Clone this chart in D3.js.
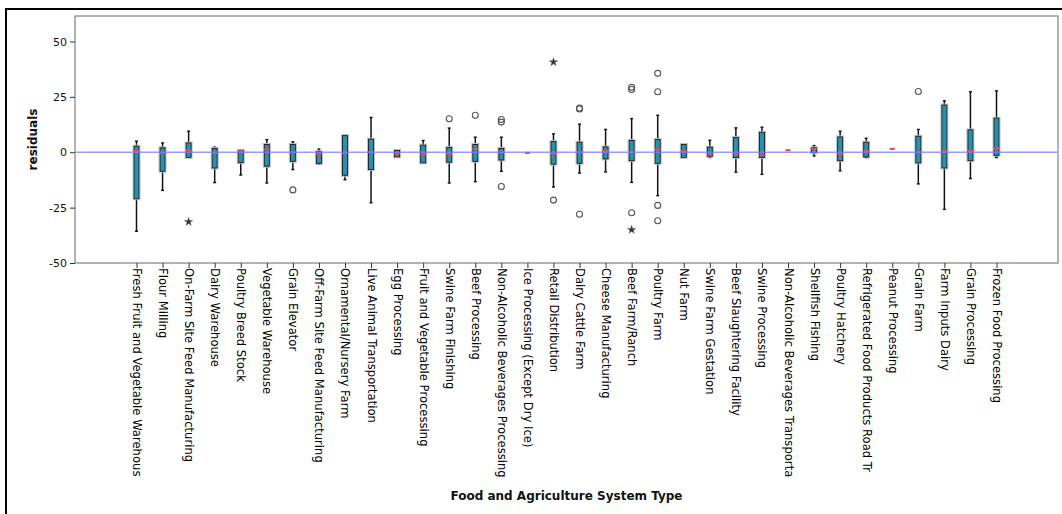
<!DOCTYPE html>
<html>
<head>
<meta charset="utf-8">
<script src="https://cdn.jsdelivr.net/npm/d3@7"></script>
<style>
  html, body { margin: 0; padding: 0; background: #fff; }
  svg { display: block; }
</style>
</head>
<body>
<svg id="chart" width="1062" height="514"></svg>
<script>
// Residuals by food and agriculture system type
const categories = [
  "Fresh Fruit and Vegetable Warehous", "Flour Milling", "On-Farm Site Feed Manufacturing",
  "Dairy Warehouse", "Poultry Breed Stock", "Vegetable Warehouse", "Grain Elevator",
  "Off-Farm Site Feed Manufacturing", "Ornamental/Nursery Farm", "Live Animal Transportation",
  "Egg Processing", "Fruit and Vegetable Processing", "Swine Farm Finishing", "Beef Processing",
  "Non-Alcoholic Beverages Processing", "Ice Processing (Except Dry Ice)", "Retail Distribution",
  "Dairy Cattle Farm", "Cheese Manufacturing", "Beef Farm/Ranch", "Poultry Farm", "Nut Farm",
  "Swine Farm Gestation", "Beef Slaughtering Facility", "Swine Processing",
  "Non-Alcoholic Beverages Transporta", "Shellfish Fishing", "Poultry Hatchery",
  "Refrigerated Food Products Road Tr", "Peanut Processing", "Grain Farm", "Farm Inputs Dairy",
  "Grain Processing", "Frozen Food Processing"
];

const whiskerLow  = [-35.7, -17.2, -2.3, -13.7, -10.3, -13.9, -7.8, -5.4, -12.4, -22.8, -2.1, -4.8, -13.9, -13.3, -8.6, -0.3, -15.7, -9.4, -8.9, -13.6, -19.6, -2.3, -2.4, -9.0, -10.0, 0.9, -1.7, -8.4, -2.4, 1.5, -14.3, -25.8, -11.9, -2.4];
const boxLow      = [-21.0, -8.6, -2.3, -7.1, -4.7, -6.3, -4.1, -5.0, -10.4, -7.8, -2.1, -4.8, -4.5, -4.1, -3.5, -0.3, -5.4, -5.0, -3.0, -3.8, -5.0, -2.3, -1.8, -2.4, -2.3, 0.9, -0.2, -3.8, -2.1, 1.5, -4.8, -7.1, -3.8, -1.4];
const boxMedian   = [0.5, -0.3, 0.9, -0.2, 0.7, 1.3, -0.1, -0.8, -0.4, 0.0, -0.8, -1.0, -0.8, 1.5, -0.1, -0.3, -0.6, 0.0, 0.6, 0.0, 1.2, 0.6, -1.0, -0.9, -1.2, 0.9, 1.5, -0.9, 0.6, 1.5, 0.0, 0.6, 0.6, 1.7];
const boxHigh     = [2.7, 2.0, 4.2, 1.7, 0.8, 3.5, 3.5, 0.2, 7.5, 5.9, 0.8, 3.2, 2.1, 3.5, 1.7, -0.3, 4.8, 4.5, 2.4, 5.3, 5.7, 3.5, 2.3, 6.6, 9.0, 0.9, 2.0, 6.9, 4.5, 1.5, 7.2, 21.3, 10.1, 15.4];
const whiskerHigh = [5.0, 4.2, 9.5, 2.3, 0.8, 5.7, 4.7, 1.4, 7.5, 15.7, 0.8, 5.3, 10.9, 6.8, 6.8, -0.3, 8.3, 12.7, 10.3, 15.2, 16.7, 3.5, 5.4, 11.0, 11.3, 0.9, 3.0, 9.5, 6.3, 1.5, 10.3, 23.2, 27.3, 27.7];

// Outliers as [category, residual]
const outliers = [
  ["Grain Elevator", -17.0],
  ["Swine Farm Finishing", 15.1],
  ["Beef Processing", 16.7],
  ["Non-Alcoholic Beverages Processing", 14.8],
  ["Non-Alcoholic Beverages Processing", 13.6],
  ["Non-Alcoholic Beverages Processing", -15.5],
  ["Retail Distribution", -21.6],
  ["Dairy Cattle Farm", 19.5],
  ["Dairy Cattle Farm", 19.9],
  ["Dairy Cattle Farm", -28.0],
  ["Beef Farm/Ranch", 29.3],
  ["Beef Farm/Ranch", 28.3],
  ["Beef Farm/Ranch", -27.3],
  ["Poultry Farm", 35.6],
  ["Poultry Farm", 27.3],
  ["Poultry Farm", -24.0],
  ["Poultry Farm", -30.9],
  ["Grain Farm", 27.4]
];
// Extreme values as [category, residual]
const extremes = [
  ["On-Farm Site Feed Manufacturing", -31.4],
  ["Retail Distribution", 40.7],
  ["Beef Farm/Ranch", -35.0]
];

const yTicks = [-50, -25, 0, 25, 50];
const yTickLabels = ["-50", "-25", "0", "25", "50"];

const svg = d3.select("#chart");
const W = 1062, H = 514;
const plot = { left: 75, right: 1058, top: 16, bottom: 263 };
const font = "'DejaVu Sans', Verdana, sans-serif";

// outer frame
svg.append("rect")
  .attr("x", 6).attr("y", 9)
  .attr("width", W).attr("height", H)
  .attr("fill", "none").attr("stroke", "#000").attr("stroke-width", 2);

const x = d3.scalePoint().domain(categories).range([plot.left, plot.right]).padding(2.36);
const y = d3.scaleLinear().domain([-50, 61.5]).range([plot.bottom, plot.top]);

// plot frame
svg.append("rect")
  .attr("x", plot.left).attr("y", plot.top)
  .attr("width", plot.right - plot.left).attr("height", plot.bottom - plot.top)
  .attr("fill", "#fff").attr("stroke", "#8a8a8a").attr("stroke-width", 1.3);

// y axis
const yAxis = d3.axisLeft(y)
  .tickValues(yTicks)
  .tickFormat((d, i) => yTickLabels[i])
  .tickSize(5).tickPadding(3);
const gy = svg.append("g").attr("transform", `translate(${plot.left},0)`).call(yAxis);
gy.select(".domain").remove();
gy.selectAll(".tick line").attr("stroke", "#333").attr("stroke-width", 1);
gy.selectAll(".tick text").attr("font-family", font).attr("font-size", 11).attr("fill", "#111");

// x axis
const xAxis = d3.axisBottom(x).tickSize(5).tickPadding(0);
const gx = svg.append("g").attr("transform", `translate(0,${plot.bottom})`).call(xAxis);
gx.select(".domain").remove();
gx.selectAll(".tick line").attr("stroke", "#333").attr("stroke-width", 1);
gx.selectAll(".tick text")
  .attr("font-family", font).attr("font-size", 11.6).attr("fill", "#000")
  .attr("text-anchor", "start")
  .attr("dy", null)
  .attr("dominant-baseline", "central")
  .attr("transform", "translate(0,5) rotate(90)")
  .attr("x", 0).attr("y", 0);

// axis titles
svg.append("text")
  .attr("transform", `translate(33,${(plot.top + plot.bottom) / 2}) rotate(-90)`)
  .attr("text-anchor", "middle").attr("dominant-baseline", "central")
  .attr("font-family", font).attr("font-weight", "bold").attr("font-size", 12)
  .attr("fill", "#111").text("residuals");
svg.append("text")
  .attr("x", (plot.left + plot.right) / 2).attr("y", 496)
  .attr("text-anchor", "middle").attr("dominant-baseline", "central")
  .attr("font-family", font).attr("font-weight", "bold").attr("font-size", 12)
  .attr("fill", "#111").text("Food and Agriculture System Type");

// boxes
const boxW = 5, capW = 3;
const rows = categories.map((c, i) => ({
  c, wl: whiskerLow[i], q1: boxLow[i], med: boxMedian[i], q3: boxHigh[i], wh: whiskerHigh[i]
}));
const g = svg.append("g");
const bx = g.selectAll("g.box").data(rows).join("g").attr("class", "box")
  .attr("transform", d => `translate(${x(d.c)},0)`);

// whiskers
bx.filter(d => d.wh > d.q3).append("line")
  .attr("x1", 0).attr("x2", 0).attr("y1", d => y(d.wh)).attr("y2", d => y(d.q3))
  .attr("stroke", "#111").attr("stroke-width", 1.5);
bx.filter(d => d.wl < d.q1).append("line")
  .attr("x1", 0).attr("x2", 0).attr("y1", d => y(d.q1)).attr("y2", d => y(d.wl))
  .attr("stroke", "#111").attr("stroke-width", 1.5);
bx.filter(d => d.wh > d.q3).append("line")
  .attr("x1", -capW / 2).attr("x2", capW / 2).attr("y1", d => y(d.wh)).attr("y2", d => y(d.wh))
  .attr("stroke", "#111").attr("stroke-width", 1.4);
bx.filter(d => d.wl < d.q1).append("line")
  .attr("x1", -capW / 2).attr("x2", capW / 2).attr("y1", d => y(d.wl)).attr("y2", d => y(d.wl))
  .attr("stroke", "#111").attr("stroke-width", 1.4);

// box body with soft halo
const hasBox = bx.filter(d => d.q3 > d.q1);
hasBox.append("rect")
  .attr("x", -boxW / 2 - 1).attr("width", boxW + 2)
  .attr("y", d => y(d.q3) - 1).attr("height", d => y(d.q1) - y(d.q3) + 2)
  .attr("fill", "none").attr("stroke", "#bdbdbd").attr("stroke-width", 1);
hasBox.append("rect")
  .attr("x", -boxW / 2).attr("width", boxW)
  .attr("y", d => y(d.q3)).attr("height", d => y(d.q1) - y(d.q3))
  .attr("fill", "#2592b2").attr("stroke", "#1a1a1a").attr("stroke-width", 0.9);

// medians
bx.append("line")
  .attr("x1", -boxW / 2).attr("x2", boxW / 2)
  .attr("y1", d => y(d.med)).attr("y2", d => y(d.med))
  .attr("stroke", "#ec4a4f").attr("stroke-width", 2.2);

// outliers
g.selectAll("circle.outlier").data(outliers).join("circle")
  .attr("class", "outlier")
  .attr("cx", d => x(d[0])).attr("cy", d => y(d[1])).attr("r", 3)
  .attr("fill", "none").attr("stroke", "#555").attr("stroke-width", 1.1);

// extremes
g.selectAll("path.extreme").data(extremes).join("path")
  .attr("class", "extreme")
  .attr("transform", d => `translate(${x(d[0])},${y(d[1])})`)
  .attr("d", d3.symbol(d3.symbolStar, 22))
  .attr("fill", "#333").attr("stroke", "#555").attr("stroke-width", 0.4);

// zero reference line
svg.append("line")
  .attr("x1", plot.left + 1).attr("x2", plot.right - 1)
  .attr("y1", y(0)).attr("y2", y(0))
  .attr("stroke", "#7a7aff").attr("stroke-opacity", 0.75).attr("stroke-width", 1.5);
</script>
</body>
</html>
